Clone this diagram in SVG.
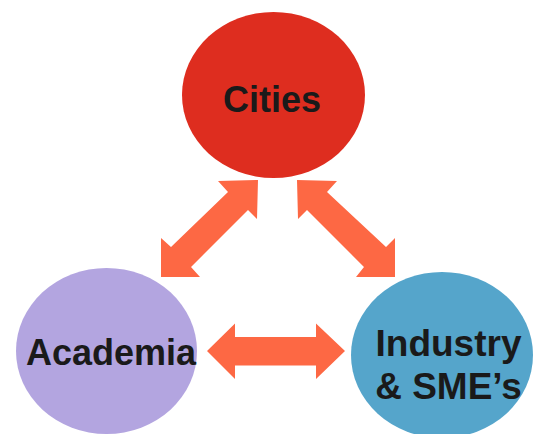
<svg xmlns="http://www.w3.org/2000/svg" width="536" height="434" viewBox="0 0 536 434">
<style>
.lbl{font-family:"Liberation Sans",Arial,sans-serif;font-weight:bold;font-size:36px;fill:#1a1a1a;text-anchor:middle}
.arr{fill:#FD6844}
</style>
<rect width="536" height="434" fill="#ffffff"/>
<g id="connectors">
<polygon class="arr" points="258,180 218,181 228,192 171,247 161,238 161,277 200,277 191,267 248,210 257,219"/>
<polygon class="arr" points="297,180 337,181 327,192 386,247 395,238 395,277 356,277 364,267 307,210 298,219"/>
<polygon class="arr" points="207,351 235,323.5 235,337 316,337 316,323.5 345,351 316,379 316,365.5 235,365.5 235,379"/>
</g>
<g id="cities">
<ellipse cx="273.5" cy="95" rx="91.5" ry="83" fill="#DE2D1F"/>
<text class="lbl" x="272" y="112">Cities</text>
</g>
<g id="academia">
<ellipse cx="106.5" cy="351" rx="90.5" ry="83" fill="#B3A5E0"/>
<text class="lbl" x="111" y="364.5">Academia</text>
</g>
<g id="industry">
<ellipse cx="442" cy="355" rx="91" ry="83" fill="#55A5CB"/>
<text class="lbl" x="448.5" y="356" style="font-size:37px">Industry</text>
<text class="lbl" x="448.5" y="399" style="font-size:37px">&amp; SME’s</text>
</g>
</svg>
